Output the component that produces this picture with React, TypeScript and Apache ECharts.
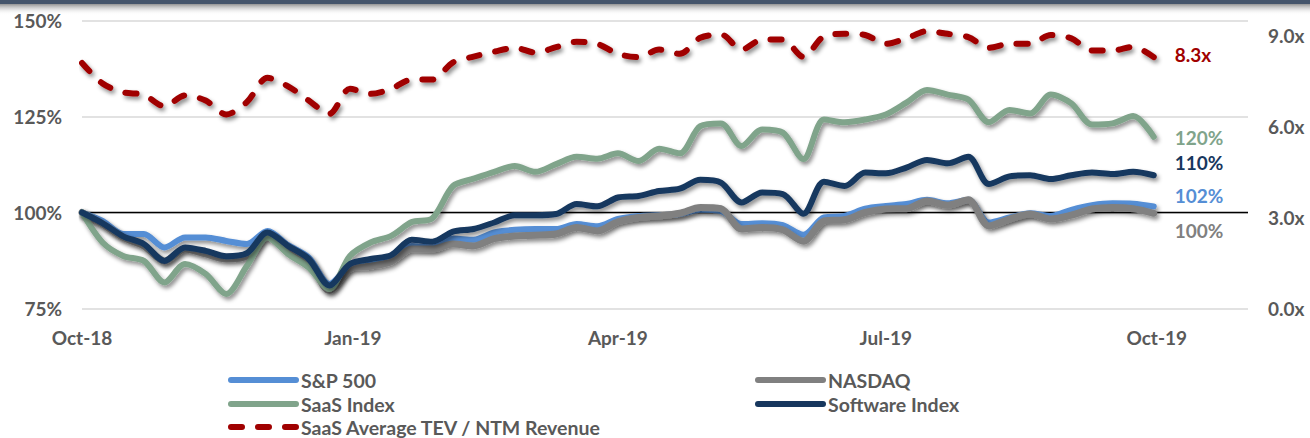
import React, { useEffect, useRef } from "react";
import * as echarts from "echarts";

// x positions: days since 1-Oct-2018, one point per week
const weekDays = Array.from({ length: 53 }, (_, i) => i * 7);
const tickDays = [0, 92, 182, 273, 365];
const tickLabels = ["Oct-18", "Jan-19", "Apr-19", "Jul-19", "Oct-19"];

const sp500 = [100, 97.8, 94.4, 94.4, 90.9, 93.5, 93.5, 92.6, 91.8, 95.2, 91.5, 88.3, 81.4, 86.1, 86.8, 88.3, 91.3, 90.9,
  93.2, 92.9, 94.8, 95.5, 95.7, 95.7, 97.0, 96.4, 98.3, 99.1, 99.3, 99.6, 100.7, 100.4, 97.0, 97.2, 96.7, 94.2,
  98.7, 99.1, 101.0, 101.7, 102.2, 103.3, 102.4, 103.3, 97.4, 98.7, 99.8, 99.1, 100.7, 101.9, 102.4, 102.3, 101.6];
const nasdaq = [100, 97.0, 93.5, 91.3, 87.4, 90.5, 89.2, 87.9, 88.7, 94.4, 90.9, 87.4, 79.7, 85.3, 86.0, 87.2, 90.5, 90.5,
  91.8, 91.3, 93.2, 93.9, 94.1, 94.4, 96.1, 95.2, 97.6, 98.7, 99.1, 99.8, 101.3, 101.0, 95.7, 96.1, 95.5, 92.5,
  97.8, 98.1, 100.0, 100.9, 101.0, 103.0, 101.9, 103.3, 96.5, 98.3, 99.6, 98.3, 99.3, 100.9, 101.3, 101.0, 99.8];
const saasIndex = [100, 92.2, 88.7, 87.4, 81.8, 86.6, 84.0, 78.8, 86.1, 93.5, 89.2, 85.7, 80.1, 88.7, 92.2, 93.9, 97.5, 98.5,
  106.9, 108.8, 110.6, 112.1, 110.6, 112.6, 114.5, 114.0, 115.4, 113.4, 116.6, 115.4, 122.5, 123.2, 117.3, 121.6, 120.8, 113.9,
  124.2, 123.5, 124.2, 125.5, 128.6, 131.9, 130.7, 129.4, 123.5, 126.7, 125.8, 130.7, 128.4, 122.9, 123.2, 125.1, 119.7];
const softwareIndex = [100, 97.2, 93.8, 91.8, 87.4, 90.9, 90.0, 88.6, 89.4, 94.8, 91.3, 87.9, 81.0, 86.6, 87.9, 88.9, 92.9, 92.4,
  95.0, 95.7, 97.4, 99.3, 99.3, 99.6, 102.2, 101.6, 103.9, 104.3, 105.6, 106.2, 108.5, 107.8, 102.6, 105.2, 104.8, 99.7,
  108.0, 106.9, 110.4, 110.2, 111.7, 113.7, 112.8, 114.5, 107.4, 109.4, 109.7, 108.7, 109.7, 110.4, 110.0, 110.6, 109.7];
const tevNtm = [8.10, 7.42, 7.13, 7.05, 6.67, 7.03, 6.86, 6.40, 6.81, 7.61, 7.33, 6.86, 6.42, 7.25, 7.08, 7.25, 7.55, 7.55,
  8.12, 8.31, 8.47, 8.60, 8.44, 8.62, 8.80, 8.73, 8.40, 8.29, 8.54, 8.40, 8.93, 9.04, 8.54, 8.87, 8.87, 8.30,
  8.98, 9.06, 9.02, 8.73, 8.91, 9.15, 9.06, 8.95, 8.60, 8.73, 8.73, 9.02, 8.91, 8.51, 8.51, 8.63, 8.29];
const baseline = [100, 100];
const baselineDays = [0, 396];

const FONT = "Lato, 'Noto Sans', sans-serif";
const AXIS_GRAY = "#595959";

const pairs = (xs: number[], ys: number[]) => ys.map((y, i) => [xs[i], y]);

export default function App() {
  const ref = useRef<HTMLDivElement>(null);
  useEffect(() => {
    if (!ref.current) return;
    const chart = echarts.init(ref.current, undefined, { renderer: "svg" });
    const shadow = { shadowColor: "rgba(0,0,0,0.45)", shadowBlur: 4, shadowOffsetX: 2, shadowOffsetY: 3 };
    const labelFont = { fontFamily: FONT, fontWeight: "bold" as const, fontSize: 19 };
    const mkLine = (name: string, data: number[], color: string, width: number, z: number, dy: number, yAxisIndex = 0, dashed = false) => ({
      name,
      type: "line",
      yAxisIndex,
      z,
      data: pairs(weekDays, data),
      symbol: "none",
      showSymbol: false,
      smooth: 0.3,
      lineStyle: {
        color,
        width,
        cap: "round",
        join: "round",
        type: dashed ? [11, 16] : "solid",
        ...shadow,
      },
      itemStyle: { color },
      endLabel: {
        show: true,
        distance: 21,
        offset: [0, dy],
        color,
        ...labelFont,
        formatter: (p: any) => (yAxisIndex === 1 ? p.value[1].toFixed(1) + "x" : Math.round(p.value[1]) + "%"),
      },
    });
    const legendBase = {
      itemWidth: 65,
      itemHeight: 14,
      padding: 0,
      textStyle: { fontFamily: FONT, fontWeight: "bold", fontSize: 19.5, color: AXIS_GRAY },
      itemStyle: { opacity: 0, borderWidth: 0 },
      lineStyle: { width: 6, cap: "round", shadowBlur: 0, shadowOffsetX: 0, shadowOffsetY: 0, shadowColor: "transparent" },
    };
    chart.setOption({
      animation: false,
      backgroundColor: "#ffffff",
      graphic: [
        { type: "rect", left: 0, top: 0, shape: { width: 1310, height: 4 }, style: { fill: "#46566C" } },
        {
          type: "rect", left: 0, top: 4, shape: { width: 1310, height: 11 },
          style: {
            fill: new echarts.graphic.LinearGradient(0, 0, 0, 1, [
              { offset: 0, color: "rgba(60,60,60,0.55)" },
              { offset: 1, color: "rgba(255,255,255,0)" },
            ]),
          },
        },
      ],
      grid: { left: 82, right: 62, top: 20.5, bottom: 129.5 },
      legend: [
        { ...legendBase, data: ["S&P 500"], left: 228, top: 370 },
        { ...legendBase, data: ["NASDAQ"], left: 755, top: 370 },
        { ...legendBase, data: ["SaaS Index"], left: 228, top: 394 },
        { ...legendBase, data: ["Software Index"], left: 755, top: 394 },
        { ...legendBase, data: ["SaaS Average TEV / NTM Revenue"], left: 228, top: 417 },
      ],
      xAxis: {
        type: "value",
        min: 0,
        max: 396,
        interval: 1,
        axisLine: { show: false },
        axisTick: { show: false },
        splitLine: { show: false },
        axisLabel: {
          margin: 19,
          color: AXIS_GRAY,
          ...labelFont,
          formatter: (v: number) => {
            const i = tickDays.indexOf(v);
            return i >= 0 ? tickLabels[i] : "";
          },
        },
      },
      yAxis: [
        {
          type: "value",
          min: 75,
          max: 150,
          interval: 25,
          axisLine: { show: false },
          axisTick: { show: false },
          splitLine: { lineStyle: { color: "#D9D9D9", width: 1.5 } },
          axisLabel: { margin: 20, color: AXIS_GRAY, ...labelFont, formatter: "{value}%" },
        },
        {
          type: "value",
          position: "right",
          min: 0,
          max: 9.5,
          interval: 3,
          axisLine: { show: false },
          axisTick: { show: false },
          splitLine: { show: false },
          axisLabel: {
            margin: 20,
            color: AXIS_GRAY,
            ...labelFont,
            showMaxLabel: false,
            formatter: (v: number) => (v > 9.2 ? "" : v.toFixed(1) + "x"),
          },
        },
      ],
      series: [
        {
          name: "baseline",
          type: "line",
          z: 1,
          data: pairs(baselineDays, baseline),
          symbol: "none",
          lineStyle: { color: "#000000", width: 1.5 },
          silent: true,
        },
        mkLine("S&P 500", sp500, "#558ED5", 6, 2, -11),
        mkLine("NASDAQ", nasdaq, "#808080", 7, 3, 17),
        mkLine("SaaS Index", saasIndex, "#80A48B", 6, 4, 1),
        mkLine("Software Index", softwareIndex, "#17375E", 6, 5, -13),
        mkLine("SaaS Average TEV / NTM Revenue", tevNtm, "#A00000", 6, 6, -3, 1, true),
      ],
    });
    return () => chart.dispose();
  }, []);
  return <div ref={ref} style={{ position: "absolute", left: 0, top: 0, width: 1310, height: 438 }} />;
}
